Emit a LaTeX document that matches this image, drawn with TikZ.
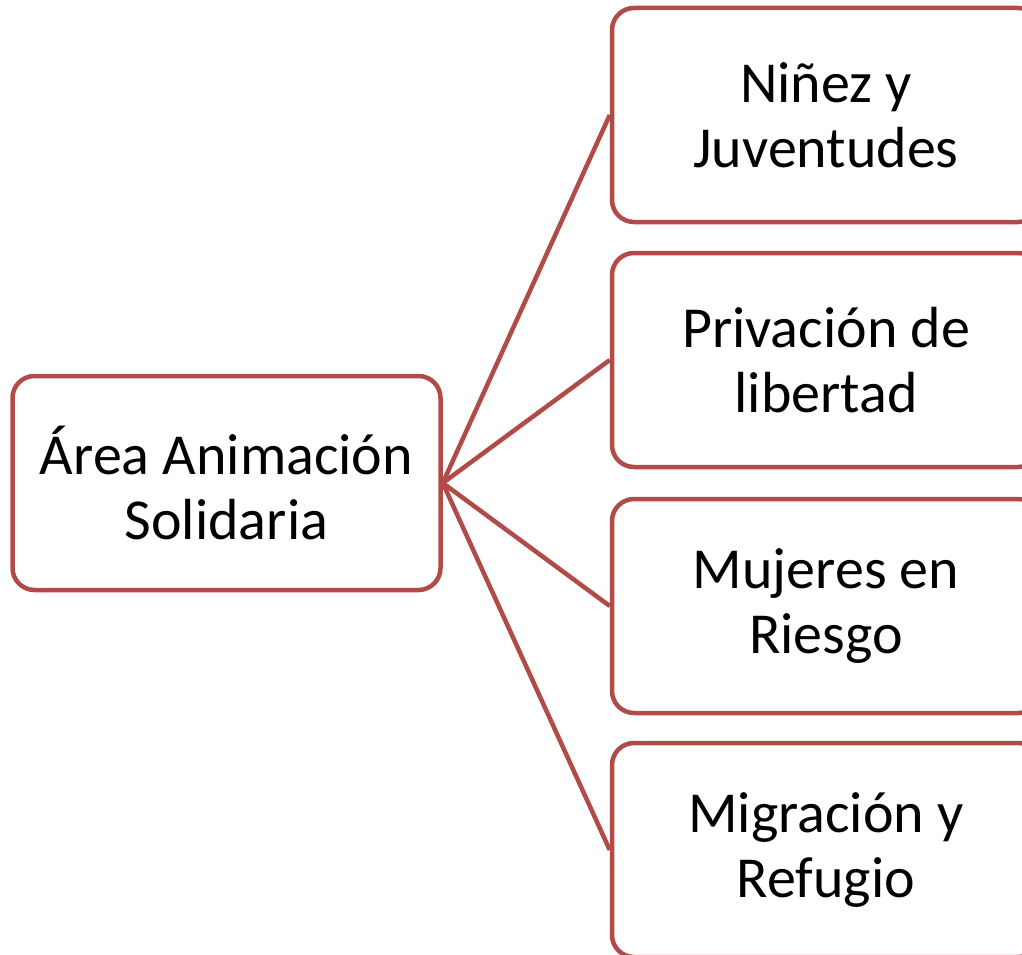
\documentclass[tikz,border=0pt]{standalone}
\usepackage{fontspec}
\setmainfont{Carlito}
\definecolor{boxred}{RGB}{176,75,72}
\begin{document}
\begin{tikzpicture}[x=1pt,y=-1pt,
  box/.style={draw=boxred, line width=4.5pt, rounded corners=22pt, fill=white,
    minimum width=428pt, minimum height=214pt, align=center, inner sep=0pt,
    font=\fontsize{58}{65}\selectfont, text=black},
  link/.style={draw=boxred, line width=4.5pt}]
\useasboundingbox (0,0) rectangle (1022,955);
\clip (0,0) rectangle (1022,955);
\node[box] (root) at (226.5,483) {Área Animación\\Solidaria};
\node[box] (a) at (826,115) {Niñez y\\Juventudes};
\node[box] (b) at (826,360) {Privación de\\libertad};
\node[box] (c) at (826,606) {Mujeres en\\Riesgo};
\node[box] (d) at (826,850) {Migración y\\Refugio};
\draw[link] (root.east) -- (a.west);
\draw[link] (root.east) -- (b.west);
\draw[link] (root.east) -- (c.west);
\draw[link] (root.east) -- (d.west);
\end{tikzpicture}
\end{document}
